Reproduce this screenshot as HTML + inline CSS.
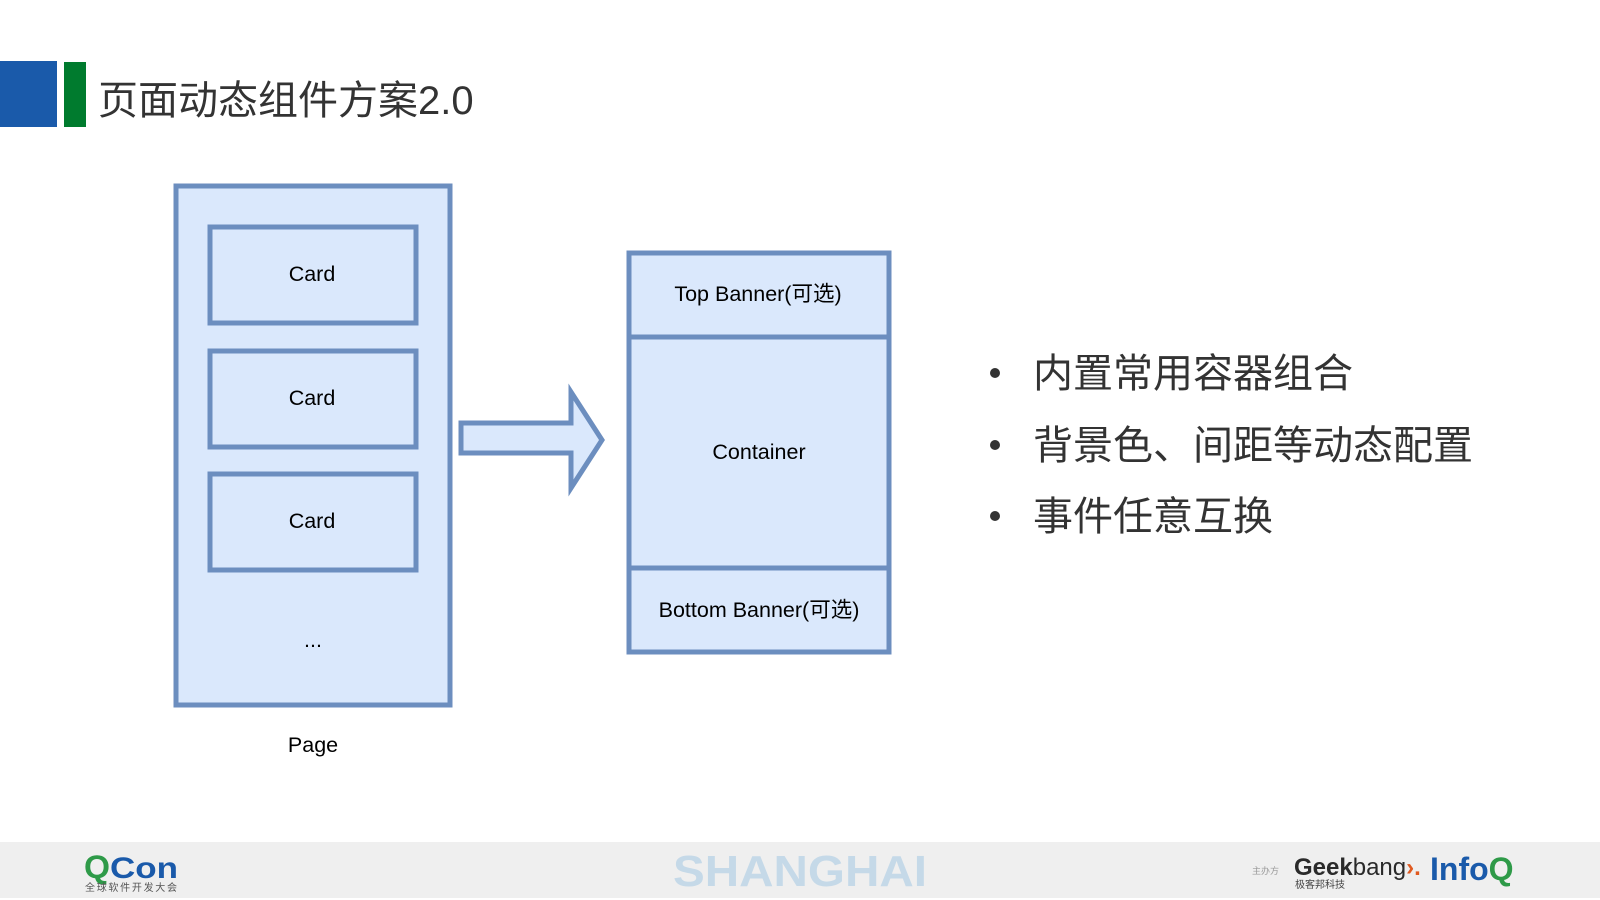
<!DOCTYPE html>
<html><head><meta charset="utf-8"><style>
body{margin:0;width:1600px;height:900px;background:#fff;overflow:hidden;font-family:"Liberation Sans","Noto Sans CJK SC",sans-serif}
</style></head><body>
<svg width="1600" height="900" viewBox="0 0 1600 900" xmlns="http://www.w3.org/2000/svg" style="position:absolute;left:0;top:0">
<rect x="0" y="61" width="57" height="66" fill="#1a5aaa"/>
<rect x="64" y="62" width="22" height="65" fill="#007b2e"/>
<text x="98" y="114" font-size="40" fill="#333" font-family="Liberation Sans, Noto Sans CJK SC, sans-serif">页面动态组件方案2.0</text>

<g fill="#dae8fc" stroke="#6c8ebf" stroke-width="5">
<rect x="176" y="186" width="274" height="519"/>
<rect x="210" y="227" width="206" height="96"/>
<rect x="210" y="351" width="206" height="96"/>
<rect x="210" y="474" width="206" height="96"/>
<path d="M461 423 H571 V392 L602 440 L571 488 V453 H461 Z"/>
<rect x="629" y="253" width="260" height="399"/>
<line x1="629" y1="337" x2="889" y2="337"/>
<line x1="629" y1="568" x2="889" y2="568"/>
</g>
<g font-size="21.5" fill="#000" text-anchor="middle" font-family="Liberation Sans, Noto Sans CJK SC, sans-serif">
<text x="312" y="281">Card</text>
<text x="312" y="405">Card</text>
<text x="312" y="528">Card</text>
<text x="313" y="647">...</text>
<text x="313" y="752">Page</text>
<text x="758" y="301">Top Banner(可选)</text>
<text x="759" y="459">Container</text>
<text x="759" y="617">Bottom Banner(可选)</text>
</g>
<g font-size="40" fill="#333" font-family="Liberation Sans, Noto Sans CJK SC, sans-serif">
<circle cx="995" cy="373" r="5"/><circle cx="995" cy="445" r="5"/><circle cx="995" cy="516" r="5"/>
<text x="1033" y="387">内置常用容器组合</text>
<text x="1033" y="459">背景色、间距等动态配置</text>
<text x="1033" y="530">事件任意互换</text>
</g>

<rect x="0" y="842" width="1600" height="56" fill="#efefef"/>
<text x="84" y="878" font-size="32" font-weight="bold" fill="#2e9a48" font-family="Liberation Sans, sans-serif" textLength="26" lengthAdjust="spacingAndGlyphs">Q</text>
<text x="110" y="878" font-size="30" font-weight="bold" fill="#1a5aaa" font-family="Liberation Sans, sans-serif" textLength="68" lengthAdjust="spacingAndGlyphs">Con</text>
<text x="85" y="891" font-size="10" fill="#555" font-family="Noto Sans CJK SC, sans-serif" textLength="92">全球软件开发大会</text>
<text x="673" y="886" font-size="44" font-weight="bold" fill="#c5d9e8" font-family="Liberation Sans, sans-serif" textLength="254" lengthAdjust="spacingAndGlyphs">SHANGHAI</text>
<text x="1252" y="874" font-size="9" fill="#999" font-family="Noto Sans CJK SC, sans-serif">主办方</text>
<text x="1294" y="875" font-size="24" font-weight="bold" fill="#2a2a2a" font-family="Liberation Sans, sans-serif">Geek<tspan fill="#2a2a2a" font-weight="normal">bang</tspan><tspan fill="#e05a20">›.</tspan></text>
<text x="1295" y="888" font-size="10" fill="#444" font-family="Noto Sans CJK SC, sans-serif">极客邦科技</text>
<text x="1430" y="880" font-size="32" font-weight="bold" fill="#1a5aaa" font-family="Liberation Sans, sans-serif">Info<tspan fill="#2e9a48">Q</tspan></text>
</svg>
</body></html>
